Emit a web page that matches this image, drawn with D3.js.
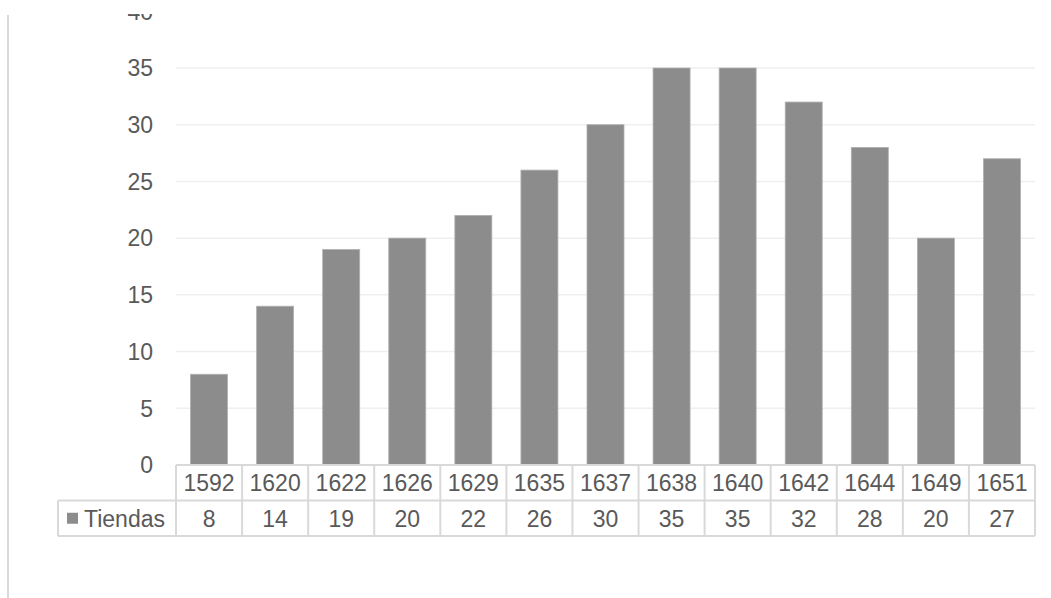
<!DOCTYPE html>
<html>
<head>
<meta charset="utf-8">
<script src="https://cdn.jsdelivr.net/npm/d3@7"></script>
<style>
  body { margin: 0; background: #fff; }
  text { font-family: "Liberation Sans", Arial, sans-serif; fill: #595959; }
</style>
</head>
<body>
<div id="chart"></div>
<script>
var years = ["1592", "1620", "1622", "1626", "1629", "1635", "1637", "1638", "1640", "1642", "1644", "1649", "1651"];
var tiendas = [8, 14, 19, 20, 22, 26, 30, 35, 35, 32, 28, 20, 27];
var seriesName = "Tiendas";
var yTicks = [0, 5, 10, 15, 20, 25, 30, 35, 40];

var W = 1051, H = 598;
var plotLeft = 176, plotRight = 1035, plotTop = 11.3, plotBottom = 465;
var rowH = 35.5, fontSize = 23;

var svg = d3.select("#chart").append("svg")
    .attr("width", W)
    .attr("height", H);

var x = d3.scaleBand()
    .domain(years)
    .range([plotLeft, plotRight])
    .paddingInner(0);

var y = d3.scaleLinear()
    .domain([0, 40])
    .range([plotBottom, plotTop]);

// gridlines
svg.append("g")
    .selectAll("line")
    .data(yTicks.filter(function(d) { return d > 0; }))
    .enter().append("line")
    .attr("x1", plotLeft).attr("x2", plotRight)
    .attr("y1", function(d) { return y(d); })
    .attr("y2", function(d) { return y(d); })
    .attr("stroke", "#efefef")
    .attr("stroke-width", 1.5);

// y labels
svg.append("g")
    .selectAll("text")
    .data(yTicks)
    .enter().append("text")
    .attr("x", 153)
    .attr("y", function(d) { return y(d); })
    .attr("dy", "0.36em")
    .attr("text-anchor", "end")
    .style("font-size", fontSize + "px")
    .text(function(d) { return d; });

// bars
var bw = x.bandwidth() * 0.56;
svg.append("g")
    .selectAll("rect")
    .data(tiendas)
    .enter().append("rect")
    .attr("x", function(d, i) { return x(years[i]) + (x.bandwidth() - bw) / 2; })
    .attr("width", bw)
    .attr("y", function(d) { return y(d); })
    .attr("height", function(d) { return plotBottom - y(d); })
    .attr("fill", "#8c8c8c")
    .attr("stroke", "#b0b0b0")
    .attr("stroke-width", 0.8);

// data table
var tbl = svg.append("g");
var lineColor = "#d9d9d9";
var legendLeft = 58;

// horizontal lines
tbl.append("line").attr("x1", plotLeft).attr("x2", plotRight)
    .attr("y1", plotBottom).attr("y2", plotBottom)
    .attr("stroke", lineColor).attr("stroke-width", 2);
tbl.append("line").attr("x1", legendLeft).attr("x2", plotRight)
    .attr("y1", plotBottom + rowH).attr("y2", plotBottom + rowH)
    .attr("stroke", lineColor).attr("stroke-width", 2);
tbl.append("line").attr("x1", legendLeft).attr("x2", plotRight)
    .attr("y1", plotBottom + 2 * rowH).attr("y2", plotBottom + 2 * rowH)
    .attr("stroke", lineColor).attr("stroke-width", 2);

// vertical lines
var edges = years.map(function(d) { return x(d); }).concat([plotRight]);
tbl.selectAll(".vl")
    .data(edges)
    .enter().append("line")
    .attr("class", "vl")
    .attr("x1", function(d) { return d; }).attr("x2", function(d) { return d; })
    .attr("y1", plotBottom).attr("y2", plotBottom + 2 * rowH)
    .attr("stroke", lineColor).attr("stroke-width", 2);
tbl.append("line").attr("x1", legendLeft).attr("x2", legendLeft)
    .attr("y1", plotBottom + rowH).attr("y2", plotBottom + 2 * rowH)
    .attr("stroke", lineColor).attr("stroke-width", 2);

// category labels
tbl.selectAll(".cat")
    .data(years)
    .enter().append("text")
    .attr("class", "cat")
    .attr("x", function(d) { return x(d) + x.bandwidth() / 2; })
    .attr("y", plotBottom + rowH / 2)
    .attr("dy", "0.36em")
    .attr("text-anchor", "middle")
    .style("font-size", fontSize + "px")
    .text(function(d) { return d; });

// values
tbl.selectAll(".val")
    .data(tiendas)
    .enter().append("text")
    .attr("class", "val")
    .attr("x", function(d, i) { return x(years[i]) + x.bandwidth() / 2; })
    .attr("y", plotBottom + rowH * 1.5)
    .attr("dy", "0.36em")
    .attr("text-anchor", "middle")
    .style("font-size", fontSize + "px")
    .text(function(d) { return d; });

// legend key
tbl.append("rect")
    .attr("x", 67).attr("y", plotBottom + rowH * 1.5 - 5.5)
    .attr("width", 11).attr("height", 11)
    .attr("fill", "#8c8c8c");
tbl.append("text")
    .attr("x", 84)
    .attr("y", plotBottom + rowH * 1.5)
    .attr("dy", "0.36em")
    .style("font-size", fontSize + "px")
    .text(seriesName);

// chart crop at the top, and the left border of the frame
svg.append("rect").attr("x", 0).attr("y", 0).attr("width", W).attr("height", 14).attr("fill", "#fff");
svg.append("line").attr("x1", 8).attr("x2", 8).attr("y1", 15).attr("y2", H)
    .attr("stroke", "#d9d9d9").attr("stroke-width", 2);
</script>
</body>
</html>
